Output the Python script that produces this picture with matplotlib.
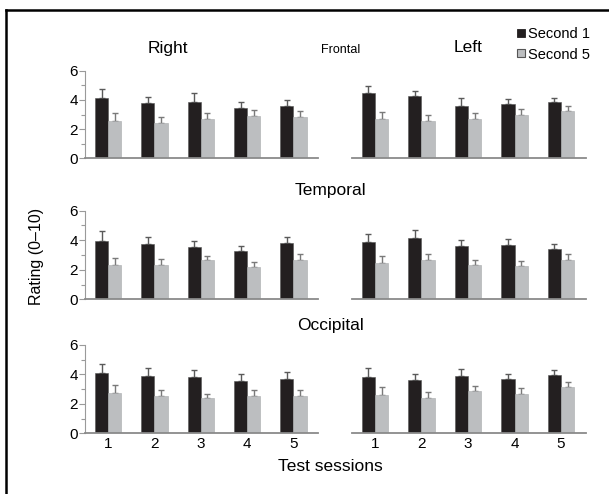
import matplotlib
matplotlib.use("Agg")
import matplotlib.pyplot as plt
from matplotlib.lines import Line2D
import numpy as np

sessions = [1, 2, 3, 4, 5]
session_labels = ["1", "2", "3", "4", "5"]
regions = ["Frontal", "Temporal", "Occipital"]
sides = ["Right", "Left"]

# Second 1 means / errors (upper)
frontal_right_s1 = [4.10, 3.77, 3.88, 3.47, 3.58]
frontal_right_s1_err = [0.65, 0.45, 0.57, 0.40, 0.40]
frontal_right_s5 = [2.58, 2.40, 2.69, 2.90, 2.85]
frontal_right_s5_err = [0.50, 0.45, 0.40, 0.40, 0.40]

frontal_left_s1 = [4.48, 4.25, 3.59, 3.75, 3.88]
frontal_left_s1_err = [0.45, 0.35, 0.55, 0.32, 0.26]
frontal_left_s5 = [2.70, 2.56, 2.70, 2.99, 3.27]
frontal_left_s5_err = [0.50, 0.40, 0.38, 0.37, 0.34]

temporal_right_s1 = [3.97, 3.76, 3.52, 3.29, 3.81]
temporal_right_s1_err = [0.65, 0.45, 0.45, 0.34, 0.43]
temporal_right_s5 = [2.34, 2.34, 2.64, 2.21, 2.64]
temporal_right_s5_err = [0.48, 0.37, 0.31, 0.34, 0.43]

temporal_left_s1 = [3.86, 4.17, 3.61, 3.66, 3.39]
temporal_left_s1_err = [0.54, 0.50, 0.40, 0.40, 0.37]
temporal_left_s5 = [2.46, 2.66, 2.34, 2.27, 2.66]
temporal_left_s5_err = [0.45, 0.39, 0.32, 0.30, 0.39]

occipital_right_s1 = [4.08, 3.91, 3.85, 3.57, 3.69]
occipital_right_s1_err = [0.63, 0.50, 0.45, 0.43, 0.45]
occipital_right_s5 = [2.72, 2.53, 2.38, 2.53, 2.55]
occipital_right_s5_err = [0.56, 0.41, 0.30, 0.41, 0.40]

occipital_left_s1 = [3.85, 3.64, 3.87, 3.67, 3.94]
occipital_left_s1_err = [0.60, 0.41, 0.50, 0.38, 0.38]
occipital_left_s5 = [2.60, 2.40, 2.87, 2.67, 3.12]
occipital_left_s5_err = [0.55, 0.41, 0.36, 0.43, 0.38]

data = {
    ("Frontal", "Right"): (frontal_right_s1, frontal_right_s1_err, frontal_right_s5, frontal_right_s5_err),
    ("Frontal", "Left"): (frontal_left_s1, frontal_left_s1_err, frontal_left_s5, frontal_left_s5_err),
    ("Temporal", "Right"): (temporal_right_s1, temporal_right_s1_err, temporal_right_s5, temporal_right_s5_err),
    ("Temporal", "Left"): (temporal_left_s1, temporal_left_s1_err, temporal_left_s5, temporal_left_s5_err),
    ("Occipital", "Right"): (occipital_right_s1, occipital_right_s1_err, occipital_right_s5, occipital_right_s5_err),
    ("Occipital", "Left"): (occipital_left_s1, occipital_left_s1_err, occipital_left_s5, occipital_left_s5_err),
}

plt.rcParams['font.family'] = ['Liberation Sans', 'DejaVu Sans']

W, H = 609, 494
fig = plt.figure(figsize=(W / 100, H / 100), dpi=100)

def fx(px):
    return px / W

def fy(py):
    return 1 - py / H

rows = {"Frontal": (70.7, 158.3), "Temporal": (210.7, 299.3), "Occipital": (345.0, 433.3)}
cols = {"Right": (85.0, 318.0), "Left": (351.7, 585.7)}

black = "#231f20"
gray = "#bcbec0"
axis_gray = "#8a8a8a"
bw = 0.285
x = np.array(sessions, dtype=float)

for region in regions:
    ytop, ybot = rows[region]
    for side in sides:
        xl, xr = cols[side]
        ax = fig.add_axes([fx(xl), fy(ybot), fx(xr) - fx(xl), fy(ytop) - fy(ybot)])
        s1, e1, s5, e5 = data[(region, side)]
        ax.bar(x - bw / 2, s1, width=bw, color=black, edgecolor="#555555", linewidth=0.4, zorder=2)
        ax.bar(x + bw / 2, s5, width=bw, color=gray, edgecolor="#a8aaac", linewidth=0.4, zorder=2)
        ax.errorbar(x - bw / 2, s1, yerr=[np.zeros(5), e1], fmt="none", ecolor="#5a5a5a",
                    elinewidth=1.0, capsize=2, capthick=1.0, zorder=1)
        ax.errorbar(x + bw / 2, s5, yerr=[np.zeros(5), e5], fmt="none", ecolor="#7a7a7a",
                    elinewidth=1.0, capsize=2, capthick=1.0, zorder=1)
        ax.set_xlim(0.5, 5.53)
        ax.set_ylim(0, 6)
        for sp in ["top", "right"]:
            ax.spines[sp].set_visible(False)
        ax.spines["bottom"].set_color(axis_gray)
        ax.spines["bottom"].set_linewidth(1.3)
        ax.tick_params(axis="x", length=0, labelsize=11, pad=3)
        if region == "Occipital":
            ax.set_xticks(sessions)
            ax.set_xticklabels(session_labels)
        else:
            ax.set_xticks([])
        if side == "Right":
            ax.spines["left"].set_color("#9a9a9a")
            ax.spines["left"].set_linewidth(0.8)
            ax.set_yticks([0, 2, 4, 6])
            ax.set_yticks([1, 3, 5], minor=True)
            ax.tick_params(axis="y", which="major", length=4, width=0.8, color="#9a9a9a",
                           labelsize=11, pad=1)
            ax.tick_params(axis="y", which="minor", length=3, width=0.8, color="#9a9a9a")
        else:
            ax.spines["left"].set_visible(False)
            ax.set_yticks([])
        ax.patch.set_alpha(0)

# Titles
fig.text(fx(168), fy(48), "Right", ha="center", va="center", fontsize=12.5)
fig.text(fx(341), fy(50), "Frontal", ha="center", va="center", fontsize=9)
fig.text(fx(468), fy(48), "Left", ha="center", va="center", fontsize=12.5)
fig.text(fx(330), fy(190), "Temporal", ha="center", va="center", fontsize=12.5)
fig.text(fx(330), fy(325), "Occipital", ha="center", va="center", fontsize=12.5)
fig.text(fx(330), fy(466), "Test sessions", ha="center", va="center", fontsize=12.5)
fig.text(fx(37), fy(256), "Rating (0\u201310)", ha="center", va="center", fontsize=11.5, rotation=90)

# Legend
handles = [Line2D([], [], linestyle="none", marker="s", markersize=6,
                  markerfacecolor=black, markeredgecolor=black, markeredgewidth=0.6),
           Line2D([], [], linestyle="none", marker="s", markersize=6,
                  markerfacecolor=gray, markeredgecolor="#555555", markeredgewidth=0.8)]
fig.legend(handles, ["Second 1", "Second 5"], loc="upper left",
           bbox_to_anchor=(fx(517), fy(27)), frameon=False, fontsize=10.5,
           handlelength=0.6, handletextpad=0.15, labelspacing=0.45,
           borderaxespad=0, borderpad=0)

# Border (top and left)
fig.add_artist(Line2D([fx(5.5), 1.0], [fy(10), fy(10)], color="black", linewidth=1.8))
fig.add_artist(Line2D([fx(5.5), fx(5.5)], [fy(10), 0.0], color="black", linewidth=1.8))

fig.savefig("out.png", dpi=100)
